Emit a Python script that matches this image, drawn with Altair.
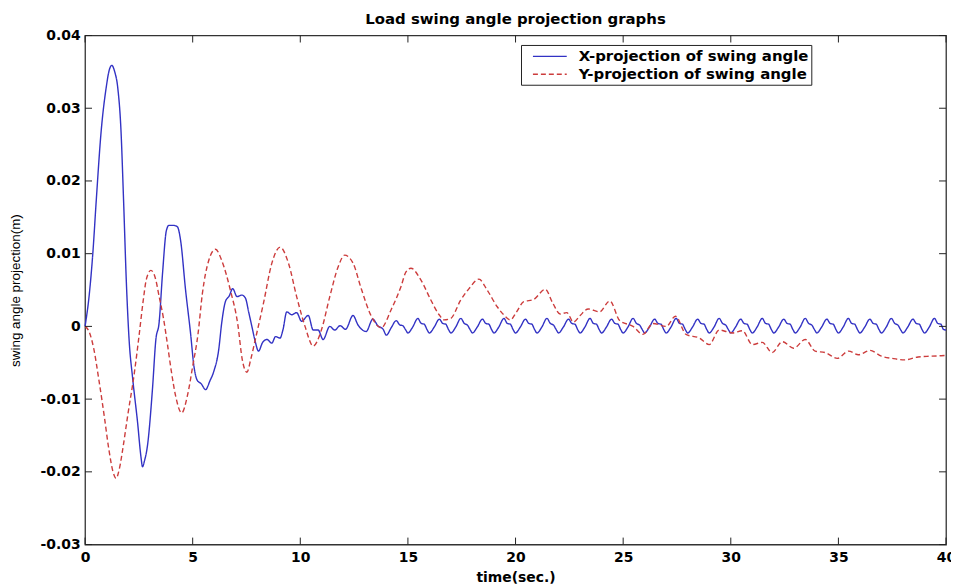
import altair as alt
import pandas as pd

SERIES = ["X-projection of swing angle", "Y-projection of swing angle"]
COLORS = ["#3232c4", "#cc3c3c"]
DASHES = [[1, 0], [5, 3]]

# X-projection (blue solid)
blue_t = [0, 0.2, 0.36, 0.52, 0.75, 0.98, 1.12, 1.24, 1.38, 1.52, 1.67, 1.79, 1.92,
          2.05, 2.21, 2.44, 2.6, 2.67, 2.76, 2.9, 3.13, 3.29, 3.44, 3.6, 3.78, 3.9,
          4.1, 4.29, 4.44, 4.67, 4.9, 5.06, 5.21, 5.4, 5.6, 5.8, 5.98, 6.21, 6.35,
          6.52, 6.7, 6.86, 7.06, 7.29, 7.45, 7.6, 7.75, 7.9, 8.06, 8.25, 8.45, 8.68,
          8.85, 9.06, 9.2, 9.37, 9.6, 9.83, 10.06, 10.37, 10.6, 10.83, 11.06, 11.37,
          11.6, 11.85, 12.1, 12.45, 12.68, 13.06, 13.37, 13.6, 13.85, 14.0,
          14.22, 14.46, 14.62, 14.76, 14.88, 15.0,
          15.22, 15.46, 15.62, 15.76, 15.88, 16.0,
          16.22, 16.46, 16.62, 16.76, 16.88, 17.0,
          17.22, 17.46, 17.62, 17.76, 17.88, 18.0,
          18.22, 18.46, 18.62, 18.76, 18.88, 19.0,
          19.22, 19.46, 19.62, 19.76, 19.88, 20.0,
          20.22, 20.46, 20.62, 20.76, 20.88, 21.0,
          21.22, 21.46, 21.62, 21.76, 21.88, 22.0,
          22.22, 22.46, 22.62, 22.76, 22.88, 23.0,
          23.22, 23.46, 23.62, 23.76, 23.88, 24.0,
          24.22, 24.46, 24.62, 24.76, 24.88, 25.0,
          25.22, 25.46, 25.62, 25.76, 25.88, 26.0,
          26.22, 26.46, 26.62, 26.76, 26.88, 27.0,
          27.22, 27.46, 27.62, 27.76, 27.88, 28.0,
          28.22, 28.46, 28.62, 28.76, 28.88, 29.0,
          29.22, 29.46, 29.62, 29.76, 29.88, 30.0,
          30.22, 30.46, 30.62, 30.76, 30.88, 31.0,
          31.22, 31.46, 31.62, 31.76, 31.88, 32.0,
          32.22, 32.46, 32.62, 32.76, 32.88, 33.0,
          33.22, 33.46, 33.62, 33.76, 33.88, 34.0,
          34.22, 34.46, 34.62, 34.76, 34.88, 35.0,
          35.22, 35.46, 35.62, 35.76, 35.88, 36.0,
          36.22, 36.46, 36.62, 36.76, 36.88, 37.0,
          37.22, 37.46, 37.62, 37.76, 37.88, 38.0,
          38.22, 38.46, 38.62, 38.76, 38.88, 39.0,
          39.22, 39.46, 39.62, 39.76, 39.88, 40.0]
blue_v = [0, 0.0045, 0.010, 0.0173, 0.0269, 0.0328, 0.0352, 0.0359, 0.0350, 0.0328, 0.0269, 0.0173, 0.0060,
          -0.0020, -0.0071, -0.0132, -0.0180, -0.0193, -0.0185, -0.0164, -0.0087, -0.0018, 0.0005, 0.0073, 0.0132, 0.0139,
          0.0139, 0.0137, 0.0118, 0.0050, -0.0009, -0.0055, -0.0074, -0.0079, -0.0087, -0.0075, -0.0062, -0.0032, 0.0005,
          0.0034, 0.0042, 0.0052, 0.0041, 0.0043, 0.0039, 0.0020, 0.0000, -0.0020, -0.0034, -0.0022, -0.0018, -0.0023,
          -0.0014, -0.0016, -0.0004, 0.0020, 0.0016, 0.0019, 0.0007, 0.0015, -0.0005, -0.0005, -0.0018, 0.0000,
          -0.0005, 0.0001, -0.0004, 0.0015, 0.0002, -0.0007, 0.0010, 0.0001, -0.0004, -0.0012,
          -0.0002, 0.0008, 0.0002, 0.0001, -0.0004, -0.0009,   # 14
          -0.0001, 0.0011, 0.0004, 0.0003, -0.0004, -0.0009,   # 15
          -0.0001, 0.0010, 0.0004, 0.0003, -0.0004, -0.0009,   # 16
          -0.0001, 0.0011, 0.0004, 0.0002, -0.0004, -0.0009,   # 17
          -0.0001, 0.0010, 0.0004, 0.0003, -0.0004, -0.0009,   # 18
          -0.0001, 0.0011, 0.0004, 0.0003, -0.0004, -0.0009,   # 19
          -0.0001, 0.0010, 0.0004, 0.0003, -0.0004, -0.0009,   # 20
          -0.0001, 0.0011, 0.0004, 0.0002, -0.0004, -0.0009,   # 21
          -0.0001, 0.0010, 0.0004, 0.0003, -0.0004, -0.0009,   # 22
          -0.0001, 0.0011, 0.0004, 0.0003, -0.0004, -0.0009,   # 23
          -0.0001, 0.0010, 0.0004, 0.0003, -0.0004, -0.0009,   # 24
          -0.0001, 0.0011, 0.0004, 0.0002, -0.0004, -0.0009,   # 25
          -0.0001, 0.0010, 0.0004, 0.0003, -0.0004, -0.0009,   # 26
          -0.0001, 0.0011, 0.0004, 0.0003, -0.0004, -0.0009,   # 27
          -0.0001, 0.0010, 0.0004, 0.0003, -0.0004, -0.0009,   # 28
          -0.0001, 0.0011, 0.0004, 0.0002, -0.0004, -0.0009,   # 29
          -0.0001, 0.0010, 0.0004, 0.0003, -0.0004, -0.0009,   # 30
          -0.0001, 0.0011, 0.0004, 0.0003, -0.0004, -0.0009,   # 31
          -0.0001, 0.0010, 0.0004, 0.0003, -0.0004, -0.0009,   # 32
          -0.0001, 0.0011, 0.0004, 0.0002, -0.0004, -0.0009,   # 33
          -0.0001, 0.0010, 0.0004, 0.0003, -0.0004, -0.0009,   # 34
          -0.0001, 0.0011, 0.0004, 0.0003, -0.0004, -0.0009,   # 35
          -0.0001, 0.0010, 0.0004, 0.0003, -0.0004, -0.0009,   # 36
          -0.0001, 0.0011, 0.0004, 0.0002, -0.0004, -0.0009,   # 37
          -0.0001, 0.0010, 0.0004, 0.0003, -0.0004, -0.0009,   # 38
          -0.0001, 0.0011, 0.0004, 0.0003, -0.0004, -0.0005]   # 39

# Y-projection (red dashed)
red_t = [0, 0.2, 0.4, 0.65, 0.9, 1.1, 1.3, 1.44, 1.6, 1.75, 1.98, 2.29, 2.5, 2.7, 2.85,
         3.06, 3.25, 3.45, 3.65, 3.83, 4.0, 4.21, 4.49, 4.75, 5.0, 5.25, 5.45, 5.75,
         6.06, 6.37, 6.75, 7.1, 7.3, 7.52, 7.7, 7.91, 8.29, 8.68, 9.06, 9.45, 9.83,
         10.22, 10.6, 10.98, 11.37, 11.76, 12.06, 12.45, 12.83, 13.3, 13.76, 14.22,
         14.68, 14.91, 15.14, 15.6, 16.07, 16.45, 16.68, 16.99, 17.45, 17.84, 18.3,
         18.68, 19.15, 19.45, 19.76, 20.05, 20.38, 20.84, 21.38, 21.73, 22.07, 22.38,
         22.69, 23.0, 23.38, 23.9, 24.38, 24.84, 25.46, 25.92, 26.38, 27.0, 27.43,
         27.92, 28.54, 29.0, 29.46, 30.08, 30.54, 31.0, 31.46, 31.92, 32.39, 32.92,
         33.46, 33.92, 34.39, 34.95, 35.47, 35.93, 36.47, 37.0, 37.5, 38.08, 38.7,
         39.3, 40.0]
red_v = [0, -0.0008, -0.0030, -0.0075, -0.0125, -0.0168, -0.0200, -0.0209, -0.0195, -0.0169, -0.0123, -0.0064, -0.0015, 0.0035, 0.0065,
         0.0077, 0.0068, 0.0040, 0.0010, -0.0025, -0.0060, -0.0096, -0.0119, -0.0096, -0.0055, -0.0010, 0.0045, 0.0091,
         0.0106, 0.0089, 0.0050, 0.0002, -0.0045, -0.0063, -0.0045, -0.0018, 0.0032, 0.0087, 0.0109, 0.0087, 0.0041,
         0.0000, -0.0027, -0.0005, 0.0041, 0.0082, 0.0098, 0.0087, 0.0052, 0.0014, -0.0002, 0.0023,
         0.0055, 0.0075, 0.0080, 0.0064, 0.0036, 0.0016, 0.0009, 0.0011, 0.0036, 0.0052, 0.0065,
         0.0050, 0.0027, 0.0016, 0.0009, 0.0020, 0.0034, 0.0037, 0.0051, 0.0032, 0.0017, 0.0019,
         0.0006, 0.0015, 0.0024, 0.0020, 0.0035, 0.0008, 0.0000, -0.0011, 0.0004, 0.0000, 0.0014,
         -0.0011, -0.0016, -0.0025, -0.0005, -0.0009, -0.0006, -0.0025, -0.0022, -0.0036, -0.0021, -0.0030,
         -0.0018, -0.0034, -0.0036, -0.0044, -0.0034, -0.0039, -0.0033, -0.0041, -0.0044, -0.0046, -0.0042,
         -0.0041, -0.0040]

x_ticks = [0, 5, 10, 15, 20, 25, 30, 35, 40]
y_ticks = [-0.03, -0.02, -0.01, 0, 0.01, 0.02, 0.03, 0.04]

W, H = 866, 512
TICK = 7

df = pd.concat([
    pd.DataFrame({"t": blue_t, "v": blue_v, "s": SERIES[0]}),
    pd.DataFrame({"t": red_t, "v": red_v, "s": SERIES[1]}),
], ignore_index=True)

xs = alt.Scale(domain=[0, 40], nice=False, zero=False)
ys = alt.Scale(domain=[-0.03, 0.04], nice=False, zero=False)

LEG = alt.Legend(title=None, labelExpr="datum.label + '\u00a0\u00a0\u00a0\u00a0'")

lines = alt.Chart(df).mark_line(strokeWidth=1.4, interpolate="monotone").encode(
    x=alt.X("t:Q", scale=xs, axis=alt.Axis(
        values=x_ticks, title="time(sec.)", labelPadding=6, labelFlush=False,
        titleBaseline="alphabetic", titleY=37, titleFont="DejaVu Sans",
        titleFontWeight="bold", titleFontSize=14)),
    y=alt.Y("v:Q", scale=ys, axis=alt.Axis(
        values=y_ticks, title="swing angle projection(m)", labelPadding=5,
        labelExpr="datum.value == 0 ? '0' : (datum.value < 0 ? '-' : '') + format(abs(datum.value), '.2f')",
        titleFont="Liberation Sans", titleFontWeight="normal", titleFontSize=13.5,
        titleX=-63, titleY=256)),
    color=alt.Color("s:N", scale=alt.Scale(domain=SERIES, range=COLORS), legend=LEG),
    strokeDash=alt.StrokeDash("s:N", scale=alt.Scale(domain=SERIES, range=DASHES), legend=LEG),
)

xt = pd.DataFrame({"t": x_ticks})
yt = pd.DataFrame({"v": y_ticks})
rule_style = dict(color="#222", strokeWidth=1)
x_bot = alt.Chart(xt).mark_rule(**rule_style).encode(
    x=alt.X("t:Q", scale=xs), y=alt.value(H), y2=alt.value(H - TICK))
x_top = alt.Chart(xt).mark_rule(**rule_style).encode(
    x=alt.X("t:Q", scale=xs), y=alt.value(0), y2=alt.value(TICK))
y_left = alt.Chart(yt).mark_rule(**rule_style).encode(
    y=alt.Y("v:Q", scale=ys), x=alt.value(0), x2=alt.value(TICK))
y_right = alt.Chart(yt).mark_rule(**rule_style).encode(
    y=alt.Y("v:Q", scale=ys), x=alt.value(W), x2=alt.value(W - TICK))

chart = alt.layer(lines, x_bot, x_top, y_left, y_right).properties(
    width=W, height=H,
    autosize=alt.AutoSizeParams(type="none"),
    padding={"left": 77.5, "top": 26, "right": 5, "bottom": 40},
    title=alt.Title("Load swing angle projection graphs", font="DejaVu Sans",
                    fontWeight="bold", fontSize=15, offset=2,
                    anchor="middle", frame="group", color="black"),
).configure_view(
    stroke="#333", strokeWidth=1.3
).configure_axis(
    grid=False, domain=False, ticks=False, labelFont="DejaVu Sans",
    labelFontWeight="bold", labelFontSize=14, labelColor="black", titleColor="black",
    labelOverlap=False,
).configure_legend(
    orient="none", legendX=438.5, legendY=9.5, strokeColor="#222", fillColor="white",
    padding=2, symbolType="M-2,0H2", symbolSize=289, symbolStrokeWidth=1.4,
    symbolOffset=17.5, labelFont="DejaVu Sans", labelFontWeight="bold", labelFontSize=15,
    labelColor="black", labelOffset=19.5, labelLimit=500, rowPadding=0, cornerRadius=0,
)

chart.save("out.html", embed_options={"renderer": "svg", "actions": False})
